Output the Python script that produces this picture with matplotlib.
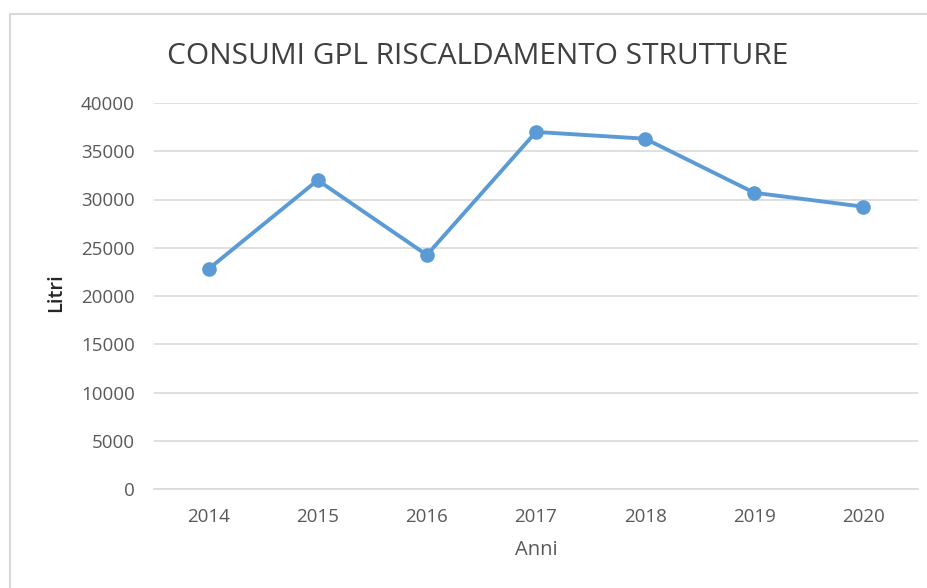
import matplotlib
matplotlib.use("Agg")
import matplotlib.pyplot as plt
from matplotlib.lines import Line2D

years = ["2014", "2015", "2016", "2017", "2018", "2019", "2020"]
litri = [22800, 32000, 24250, 37000, 36300, 30700, 29250]
yticks = [0, 5000, 10000, 15000, 20000, 25000, 30000, 35000, 40000]

W, H = 928, 588
fig = plt.figure(figsize=(W / 100, H / 100), dpi=100)
fig.patch.set_facecolor("white")

# outer chart border (top and left visible)
border_col = "#d9d9d9"
fig.add_artist(Line2D([10 / W, 1.0], [1 - 14 / H, 1 - 14 / H], color=border_col, lw=1.5, transform=fig.transFigure))
fig.add_artist(Line2D([10 / W, 10 / W], [0, 1 - 14 / H], color=border_col, lw=1.5, transform=fig.transFigure))

left, right, top, bottom = 154, 918, 103, 489
ax = fig.add_axes([left / W, 1 - bottom / H, (right - left) / W, (bottom - top) / H])

x = list(range(len(years)))
ax.plot(x, litri, color="#5B9BD5", lw=2.8, marker="o", markersize=9.5,
        solid_capstyle="round", solid_joinstyle="round", zorder=3)

ax.set_xlim(-0.5, len(years) - 0.5)
ax.set_ylim(0, 40000)
ax.set_yticks(yticks)
ax.set_yticklabels([str(v) for v in yticks])
ax.set_xticks(x)
ax.set_xticklabels(years)

font = "Open Sans"
txt = "#595959"
for lab in ax.get_yticklabels() + ax.get_xticklabels():
    lab.set_fontfamily(font)
    lab.set_fontsize(13.5)
    lab.set_color(txt)

ax.tick_params(axis="both", length=0)
ax.tick_params(axis="y", pad=14)
ax.tick_params(axis="x", pad=14)
ax.grid(axis="y", color="#d9d9d9", lw=1.2)
ax.set_axisbelow(True)
for s in ["top", "right", "left"]:
    ax.spines[s].set_visible(False)
ax.spines["bottom"].set_color("#d9d9d9")
ax.spines["bottom"].set_linewidth(1.2)

fig.text(56 / W, 1 - 293 / H, "Litri", fontfamily=font, fontsize=14.5, fontweight="semibold",
         color="#262626", rotation=90, ha="center", va="center")
fig.text(536 / W, 1 - 550 / H, "Anni", fontfamily=font, fontsize=14.5,
         color="#595959", ha="center", va="center")

fig.text(478 / W, 1 - 56 / H, "CONSUMI GPL RISCALDAMENTO STRUTTURE", fontfamily=font,
         fontsize=21.5, color="#404040", ha="center", va="center")

fig.savefig("out.png", dpi=100)
